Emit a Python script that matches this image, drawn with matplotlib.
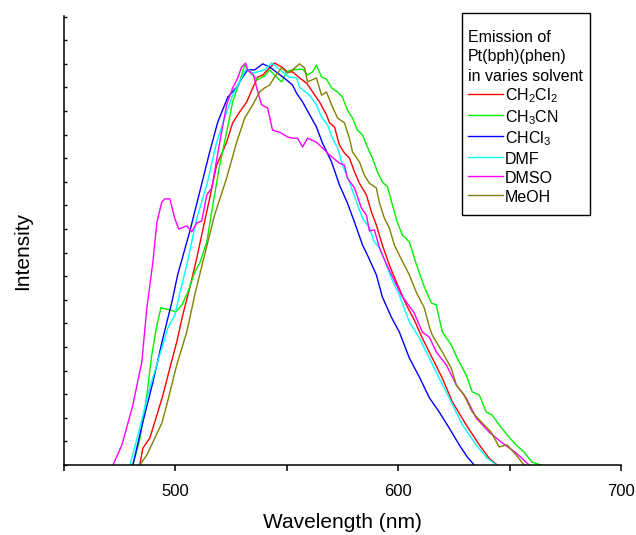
import matplotlib
matplotlib.use("Agg")
import matplotlib.pyplot as plt
from matplotlib.patches import Rectangle
from matplotlib.ticker import MultipleLocator

plt.rcParams['font.family'] = ['Liberation Sans', 'DejaVu Sans']
plt.rcParams['mathtext.fontset'] = 'custom'
plt.rcParams['mathtext.rm'] = 'Liberation Sans'
plt.rcParams['mathtext.it'] = 'Liberation Sans:italic'

LABELS = [r'CH$_2$Cl$_2$', r'CH$_3$CN', r'CHCl$_3$', 'DMF', 'DMSO', 'MeOH']
COLORS = ['#FF0000', '#00F000', '#0000FF', '#00FFFF', '#FF00FF', '#808000']

# normalized emission spectra
ch2cl2_wl = [484.0, 485.4, 488.5, 491.7, 494.4, 497.5, 500.6, 503.3, 506.4, 509.6, 512.3, 515.4,
             518.5, 523.0, 525.7, 528.8, 532.0, 534.7, 536.9, 539.2, 542.3, 544.5, 547.7, 550.4,
             552.6, 555.7, 558.9, 561.6, 564.7, 567.8, 569.2, 571.4, 573.6, 575.9, 578.1, 580.4,
             582.6, 585.7, 588.0, 590.2, 592.9, 596.0, 599.2, 603.7, 607.2, 610.8, 615.3, 619.8,
             624.3, 630.5, 636.4, 640.8, 644.4]
ch2cl2_i = [0.0, 0.042, 0.067, 0.124, 0.174, 0.241, 0.306, 0.373, 0.440, 0.515, 0.585, 0.664,
            0.746, 0.803, 0.851, 0.878, 0.903, 0.938, 0.965, 0.970, 0.988, 1.0, 0.990, 0.978,
            0.978, 0.963, 0.950, 0.928, 0.903, 0.871, 0.851, 0.841, 0.796, 0.776, 0.764, 0.729,
            0.701, 0.672, 0.629, 0.597, 0.547, 0.498, 0.455, 0.398, 0.361, 0.316, 0.266, 0.216,
            0.157, 0.100, 0.050, 0.017, 0.0]

ch3cn_wl = [480.9, 484.0, 487.2, 489.4, 491.7, 493.5, 497.5, 500.2, 502.9, 505.6, 508.7, 510.9,
            514.1, 516.8, 519.9, 523.0, 525.7, 528.8, 531.1, 533.3, 536.9, 540.0, 542.3, 544.5,
            547.7, 549.9, 552.6, 557.1, 559.3, 561.6, 563.3, 565.6, 567.8, 570.1, 572.8, 575.0,
            577.2, 579.5, 581.7, 584.0, 586.2, 588.4, 590.7, 592.9, 595.2, 597.4, 599.6, 601.9,
            605.0, 608.1, 611.7, 614.9, 617.1, 619.8, 623.8, 626.5, 630.5, 633.2, 636.4, 639.5,
            642.2, 645.3, 648.9, 652.9, 656.5, 660.1, 664.1]
ch3cn_i = [0.0, 0.062, 0.174, 0.274, 0.348, 0.391, 0.386, 0.381, 0.398, 0.430, 0.480, 0.502,
           0.555, 0.647, 0.746, 0.828, 0.903, 0.953, 0.995, 0.978, 0.958, 0.968, 0.983, 0.970,
           0.953, 0.978, 0.983, 0.985, 0.970, 0.978, 0.995, 0.965, 0.960, 0.938, 0.928, 0.915,
           0.883, 0.863, 0.833, 0.821, 0.791, 0.764, 0.729, 0.704, 0.692, 0.647, 0.604, 0.572,
           0.555, 0.500, 0.443, 0.403, 0.398, 0.331, 0.299, 0.266, 0.224, 0.182, 0.174, 0.132,
           0.124, 0.100, 0.075, 0.050, 0.032, 0.007, 0.0]

chcl3_wl = [480.9, 485.4, 489.9, 494.4, 498.4, 501.1, 506.4, 510.9, 515.4, 519.0, 523.5, 527.5,
            530.2, 532.4, 535.6, 539.2, 542.3, 545.9, 549.9, 552.6, 554.4, 557.1, 561.1, 563.3,
            566.0, 570.1, 573.6, 577.2, 580.4, 584.0, 586.2, 590.2, 592.9, 596.9, 600.5, 605.0,
            609.5, 614.0, 618.4, 622.9, 627.4, 631.0, 634.1]
chcl3_i = [0.0, 0.107, 0.206, 0.316, 0.405, 0.475, 0.580, 0.679, 0.779, 0.853, 0.915, 0.940,
           0.965, 0.983, 0.983, 0.998, 0.990, 0.975, 0.958, 0.945, 0.925, 0.903, 0.863, 0.841,
           0.801, 0.754, 0.697, 0.652, 0.604, 0.547, 0.522, 0.473, 0.418, 0.368, 0.331, 0.266,
           0.219, 0.167, 0.132, 0.092, 0.050, 0.020, 0.0]

dmf_wl = [479.6, 484.0, 488.5, 493.0, 496.6, 499.7, 502.9, 505.6, 509.6, 514.1, 518.5, 523.0,
          525.7, 528.8, 532.0, 534.2, 536.9, 540.0, 543.2, 545.9, 549.9, 551.2, 554.4, 555.7,
          560.2, 563.3, 565.6, 568.3, 570.5, 572.8, 575.0, 578.1, 581.3, 584.0, 587.1, 589.3,
          591.6, 594.7, 596.9, 600.5, 605.0, 609.5, 614.0, 618.4, 622.9, 628.8, 635.0, 640.0,
          644.0]
dmf_i = [0.0, 0.092, 0.192, 0.274, 0.341, 0.373, 0.448, 0.510, 0.614, 0.697, 0.803, 0.878,
         0.920, 0.953, 0.988, 0.975, 0.978, 0.983, 1.0, 0.988, 0.970, 0.965, 0.963, 0.940,
         0.920, 0.896, 0.866, 0.846, 0.813, 0.789, 0.746, 0.704, 0.654, 0.614, 0.590, 0.555,
         0.540, 0.498, 0.465, 0.423, 0.356, 0.316, 0.266, 0.216, 0.167, 0.100, 0.050, 0.017,
         0.0]

dmso_wl = [472.0, 476.0, 480.9, 484.9, 487.2, 489.9, 491.7, 493.9, 495.2, 497.5, 499.7, 501.5,
           505.1, 507.3, 509.6, 511.8, 514.1, 516.3, 519.9, 523.0, 525.7, 528.0, 529.7, 531.5,
           532.4, 535.1, 536.5, 538.7, 541.4, 543.6, 546.8, 550.4, 552.6, 554.8, 557.1, 559.3,
           563.3, 566.9, 569.2, 573.6, 575.9, 577.2, 580.4, 583.5, 585.7, 587.1, 589.3, 591.6,
           594.7, 601.4, 607.2, 610.8, 614.0, 617.1, 621.6, 626.1, 630.5, 635.0, 640.8, 646.7,
           652.9, 657.4, 658.8]
dmso_i = [0.0, 0.050, 0.149, 0.256, 0.391, 0.505, 0.604, 0.654, 0.662, 0.662, 0.614, 0.587,
          0.595, 0.580, 0.602, 0.607, 0.672, 0.689, 0.803, 0.896, 0.938, 0.963, 0.990, 1.0,
          0.983, 0.970, 0.938, 0.896, 0.888, 0.833, 0.828, 0.816, 0.813, 0.813, 0.791, 0.813,
          0.803, 0.784, 0.771, 0.751, 0.746, 0.714, 0.689, 0.639, 0.622, 0.582, 0.585, 0.540,
          0.500, 0.423, 0.378, 0.331, 0.318, 0.281, 0.249, 0.199, 0.167, 0.117, 0.082, 0.055,
          0.030, 0.007, 0.0]

meoh_wl = [484.0, 487.2, 489.9, 493.9, 496.1, 500.6, 505.1, 508.7, 512.3, 517.6, 523.0, 527.5,
           531.1, 534.7, 537.8, 540.0, 542.3, 544.5, 547.7, 550.4, 552.6, 555.7, 558.0, 559.3,
           563.3, 565.6, 567.8, 570.1, 572.8, 575.9, 578.1, 579.5, 582.6, 584.8, 587.1, 590.2,
           591.6, 593.8, 596.0, 598.3, 600.5, 605.0, 608.1, 611.7, 614.0, 615.3, 619.8, 623.8,
           626.1, 629.6, 633.2, 637.3, 641.7, 645.3, 648.9, 652.9, 656.5]
meoh_i = [0.0, 0.025, 0.057, 0.104, 0.149, 0.249, 0.331, 0.423, 0.505, 0.622, 0.714, 0.803,
          0.863, 0.896, 0.928, 0.938, 0.945, 0.965, 0.988, 0.975, 0.983, 0.998, 0.988, 0.953,
          0.963, 0.920, 0.928, 0.896, 0.863, 0.851, 0.813, 0.779, 0.754, 0.721, 0.701, 0.689,
          0.652, 0.614, 0.590, 0.547, 0.522, 0.473, 0.430, 0.391, 0.343, 0.323, 0.281, 0.241,
          0.199, 0.174, 0.132, 0.107, 0.082, 0.045, 0.050, 0.025, 0.0]

SERIES = [(ch2cl2_wl, ch2cl2_i), (ch3cn_wl, ch3cn_i), (chcl3_wl, chcl3_i),
          (dmf_wl, dmf_i), (dmso_wl, dmso_i), (meoh_wl, meoh_i)]

W, H = 636, 535


def main():
    fig = plt.figure(figsize=(W / 100, H / 100), dpi=100)
    ax = fig.add_axes([64 / W, 1 - 465 / H, 557 / W, 449 / H])

    for (wl, inten), label, color in zip(SERIES, LABELS, COLORS):
        ax.plot(wl, inten, color=color, lw=1.0, label=label)

    ax.set_xlim(450, 700)
    ax.set_ylim(0, 1.117)

    for side in ('top', 'right'):
        ax.spines[side].set_visible(False)
    for side in ('left', 'bottom'):
        ax.spines[side].set_linewidth(1.1)

    ax.xaxis.set_major_locator(MultipleLocator(100))
    ax.xaxis.set_minor_locator(MultipleLocator(50))
    ax.tick_params(axis='x', which='both', direction='out', length=4, width=1.1,
                   labelsize=12, pad=9.5)
    ax.yaxis.set_major_locator(MultipleLocator(0.0587))
    ax.tick_params(axis='y', which='both', direction='in', length=2, width=1,
                   labelleft=False)

    ax.set_xlabel('Wavelength (nm)', fontsize=15, labelpad=10)
    ax.set_ylabel('Intensity', fontsize=15)
    ax.yaxis.set_label_coords(-0.057, 0.477)

    # legend box drawn by hand, contents placed inside it
    box = Rectangle((462 / W, 1 - 215 / H), 128 / W, 202 / H, transform=fig.transFigure,
                    facecolor='white', edgecolor='black', lw=1.0, clip_on=False, zorder=5)
    ax.add_patch(box)
    leg = ax.legend(title='Emission of\nPt(bph)(phen)\nin varies solvent',
                    loc='upper left', bbox_to_anchor=(468 / W, 1 - 29.5 / H),
                    bbox_transform=fig.transFigure, fontsize=11.5, title_fontsize=11.5,
                    alignment='left', frameon=False, borderpad=0,
                    handlelength=2.2, handletextpad=0.1, handleheight=1.2,
                    labelspacing=0.16, borderaxespad=0)
    leg.get_title().set_linespacing(1.4)
    leg.set_zorder(6)

    fig.savefig('out.png', dpi=100)


if __name__ == "__main__":
    main()
